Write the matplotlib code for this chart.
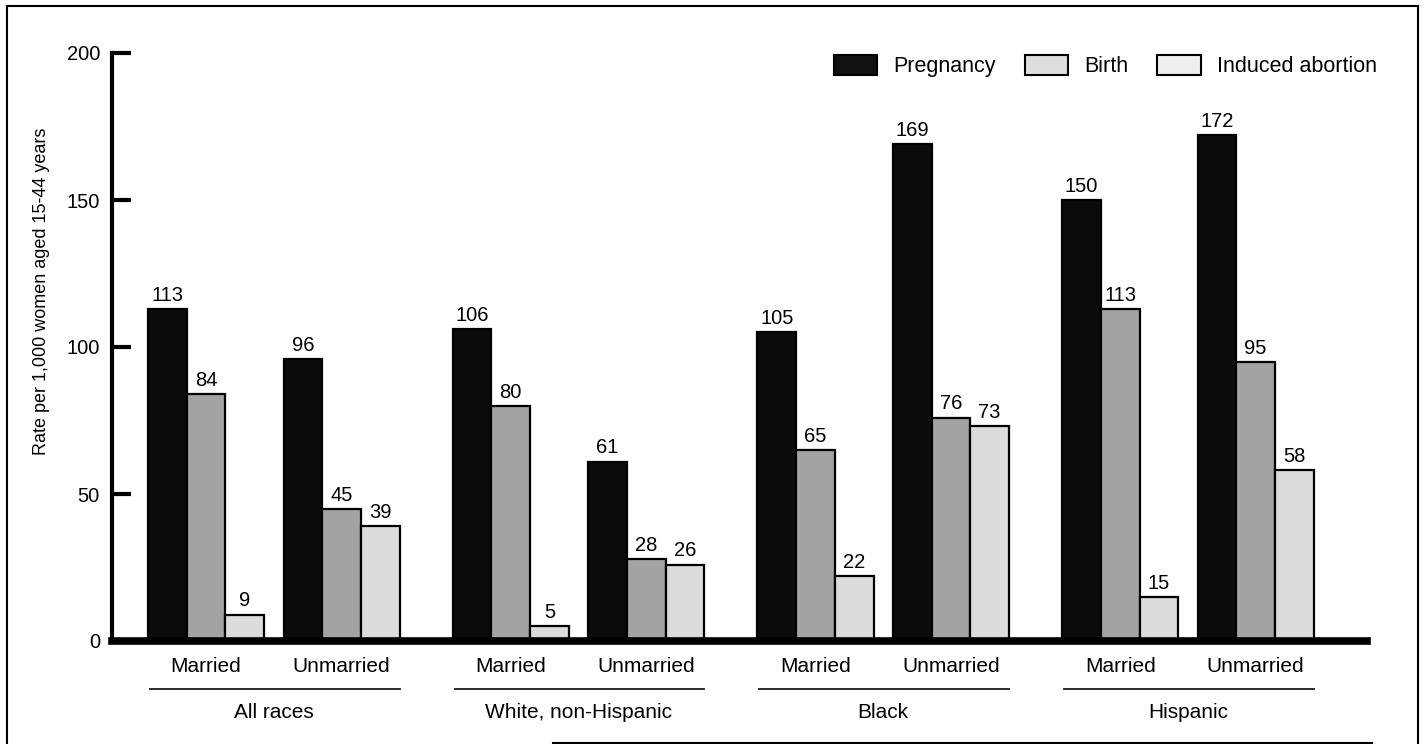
import matplotlib
matplotlib.use("Agg")
import matplotlib.pyplot as plt
from matplotlib.patches import Patch
from matplotlib.lines import Line2D

# ---------------- data ----------------
races = ["All races", "White, non-Hispanic", "Black", "Hispanic"]
statuses = ["Married", "Unmarried"]
series_names = ["Pregnancy", "Birth", "Induced abortion"]
# order: race x status (Married, Unmarried)
pregnancy = [113, 96, 106, 61, 105, 169, 150, 172]
birth = [84, 45, 80, 28, 65, 76, 113, 95]
abortion = [9, 39, 5, 26, 22, 73, 15, 58]
yticks = [0, 50, 100, 150, 200]
ylabel = "Rate per 1,000 women aged 15-44 years"

# ---------------- layout / style ----------------
W, H = 1427, 744
plt.rcParams["font.family"] = ["Liberation Sans", "DejaVu Sans"]
fig = plt.figure(figsize=(W / 100, H / 100), dpi=100)

y0_px, ytop_px = 641, 53
x_axis_px, x_end_px = 112.5, 1367
ax = fig.add_axes([x_axis_px / W, (H - y0_px) / H,
                   (x_end_px - x_axis_px) / W, (y0_px - ytop_px) / H])

bar_w = 38.7
sub_pitch = 135.5
race_pitch = 304.7
x_start = 148 - x_axis_px

colors = ["#0b0b0b", "#a3a3a3", "#dcdcdc"]
legend_colors = ["#111111", "#dedede", "#efefef"]
all_series = [pregnancy, birth, abortion]

bases = []
for r in range(len(races)):
    for s in range(len(statuses)):
        bases.append(x_start + r * race_pitch + s * sub_pitch)

for k, vals in enumerate(all_series):
    xs = [b + k * bar_w for b in bases]
    ax.bar(xs, vals, width=bar_w, align="edge", color=colors[k],
           edgecolor="black", linewidth=1.6, zorder=2)
    for x, v in zip(xs, vals):
        ax.annotate(str(v), (x + bar_w / 2, v), xytext=(0, 3),
                    textcoords="offset points", ha="center", va="bottom",
                    fontsize=14.5)

ax.set_xlim(0, x_end_px - x_axis_px)
ax.set_ylim(0, 200)
ax.set_yticks(yticks)
ax.set_xticks([])
ax.tick_params(axis="y", direction="in", length=14, width=3, pad=9,
               labelsize=14.5)
for sp in ["top", "right"]:
    ax.spines[sp].set_visible(False)
ax.spines["left"].set_linewidth(3)
ax.spines["bottom"].set_linewidth(5.5)
ax.spines["bottom"].set_zorder(3)
ax.spines["left"].set_zorder(3)

trans = ax.get_xaxis_transform()
span = (y0_px - ytop_px)
y_status = -(666 - y0_px) / span
y_line = -(689 - y0_px) / span
y_race = -(712 - y0_px) / span

for i, b in enumerate(bases):
    ax.text(b + 1.5 * bar_w, y_status, statuses[i % 2], transform=trans,
            ha="center", va="center", fontsize=15)

group_w = sub_pitch + 3 * bar_w
for r, name in enumerate(races):
    rb = x_start + r * race_pitch
    ax.add_line(Line2D([rb + 2, rb + group_w], [y_line, y_line],
                       transform=trans, color="#1a1a1a", lw=1.3,
                       clip_on=False))
    ax.text(rb + group_w / 2, y_race, name, transform=trans,
            ha="center", va="center", fontsize=15)

fig.text(42 / W, 1 - 291 / H, ylabel, rotation=90, ha="center",
         va="center", fontsize=13)

handles = [Patch(facecolor=c, edgecolor="black", linewidth=1.5)
           for c in legend_colors]
fig.legend(handles, series_names, loc="center",
           bbox_to_anchor=(1105.5 / W, 1 - 66 / H), ncol=3, frameon=False,
           handlelength=2.0, handleheight=1.05, handletextpad=0.75,
           columnspacing=1.35, fontsize=15.5, borderpad=0, borderaxespad=0)

# figure frame
def fline(xs, ys, lw=1.5):
    fig.add_artist(Line2D([x / W for x in xs], [1 - y / H for y in ys],
                          transform=fig.transFigure, color="black", lw=lw))

fline([7, 7], [6, 744])
fline([7, 1418], [6, 6])
fline([1418, 1418], [6, 744])
fline([553, 1372], [742.5, 742.5])

fig.savefig("out.png", dpi=100)
